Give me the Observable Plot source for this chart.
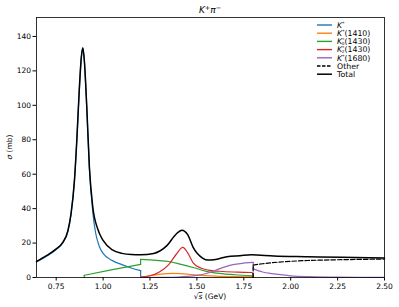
<!DOCTYPE html>
<html><head><meta charset="utf-8">
<script src="https://cdn.jsdelivr.net/npm/d3@7"></script>
<script src="https://cdn.jsdelivr.net/npm/@observablehq/plot@0.6"></script>
<style>
body{margin:0;background:#fff;}
#chart svg{display:block;}
</style></head><body><div id="chart"></div>
<script>
// ---- data ----
const totalX = [0.645,0.70,0.75,0.785,0.812,0.829,0.847,0.860,0.873,0.884,0.892,0.900,0.913,0.927,0.945,0.972,1.0,1.05,1.10,1.15,1.20,1.27,1.34,1.39,1.42,1.45,1.48,1.53,1.56,1.60,1.66,1.73,1.79,1.91,2.09,2.27,2.5];
const totalY = [9.3,12.8,16.6,20.4,27,37,56,80,109,128,133.5,126,99,64,41,28,21.5,16,14,13.3,13.2,14,18.5,25.3,27.5,25,17.5,11.3,10.1,10.5,12.1,12.7,13.2,12.5,12.1,11.7,11.3];
const kstarX = [0.645,0.70,0.75,0.785,0.812,0.829,0.847,0.860,0.873,0.884,0.892,0.900,0.913,0.927,0.945,0.96,0.98,1.0,1.05,1.10,1.15,1.2,1.2];
const kstarY = [9.0,12.5,16.3,20.1,26.7,36.7,55.7,79.7,108.7,127.7,133.2,125.7,98.5,63,38,26,18,14,9.8,7.5,5.5,4,0];
const k1410X = [1.2,1.25,1.3,1.37,1.43,1.5,1.6,1.7,1.8,1.8];
const k1410Y = [0.3,1.0,1.8,2.4,2.1,1.4,0.8,0.5,0.4,0];
const k0X = [0.9,0.9,1.05,1.2,1.2,1.25,1.3,1.35,1.41,1.48,1.55,1.62,1.7,1.8,1.8];
const k0Y = [0,1.3,4.6,7.6,10.5,10.2,9.8,9.3,7.8,5.8,3.6,2.4,1.6,1.0,0];
const k2X = [1.2,1.25,1.3,1.35,1.39,1.425,1.45,1.48,1.52,1.56,1.64,1.72,1.795,1.8];
const k2Y = [0.2,1.0,3.2,7.5,13.5,17.5,14.5,8.5,5.5,4.3,3.5,3.1,2.9,0];
const k1680X = [1.2,1.3,1.4,1.45,1.5,1.55,1.6,1.65,1.7,1.75,1.795,1.8,1.8,1.85,1.9,2.0,2.1,2.25,2.5];
const k1680Y = [0,0.1,0.3,0.6,1.2,2.3,4.2,6.2,7.6,8.4,8.8,8.8,5.0,3.2,2.2,1.0,0.5,0.2,0.1];
const otherX = [1.8,1.8,1.85,1.9,2.0,2.1,2.25,2.5];
const otherY = [0,7.2,8.0,8.6,9.4,9.9,10.3,10.7];
const xTicks = [0.75,1.00,1.25,1.50,1.75,2.00,2.25,2.50];
const yTicks = [0,20,40,60,80,100,120,140];

const series = [
  {key:"kstar", x:kstarX, y:kstarY, color:"#1f77b4", dash:null, w:1.2},
  {key:"k1410", x:k1410X, y:k1410Y, color:"#ff7f0e", dash:null, w:1.2},
  {key:"k0", x:k0X, y:k0Y, color:"#2ca02c", dash:null, w:1.2},
  {key:"k2", x:k2X, y:k2Y, color:"#d62728", dash:null, w:1.2},
  {key:"k1680", x:k1680X, y:k1680Y, color:"#9467bd", dash:null, w:1.2},
  {key:"other", x:otherX, y:otherY, color:"#000", dash:"4.5,2", w:1.2},
  {key:"total", x:totalX, y:totalY, color:"#000", dash:null, w:1.5}
];

function toRows(s) {
  const segs = [[{x:s.x[0], y:s.y[0]}]];
  for (let i = 1; i < s.x.length; i++) {
    const p = {x:s.x[i], y:s.y[i]};
    if (s.x[i] === s.x[i-1]) {
      segs.push([{x:s.x[i-1], y:s.y[i-1]}, p]);
      segs.push([p]);
    } else segs[segs.length-1].push(p);
  }
  const rows = [];
  segs.filter(g => g.length > 1).forEach((g, k) => g.forEach(p => rows.push({...p, seg: s.key + k})));
  return rows;
}

const marks = series.map(s => Plot.line(toRows(s), {
  x:"x", y:"y", z:"seg", stroke:s.color, strokeWidth:s.w,
  strokeDasharray: s.dash || undefined, curve:"monotone-x"
}));

const plot = Plot.plot({
  width:399, height:307,
  marginLeft:36, marginRight:15, marginTop:17, marginBottom:30,
  style:{fontFamily:"DejaVu Sans", fontSize:"7.5px", background:"#fff", color:"#000"},
  x:{domain:[0.645,2.5], ticks:xTicks, tickFormat:d3.format(".2f"), tickSize:3.5, tickPadding:2.5, label:null},
  y:{domain:[0,151], ticks:yTicks, tickSize:3.5, tickPadding:2, label:null},
  marks:[
    ...marks,
    Plot.frame({stroke:"#000", strokeWidth:0.8})
  ]
});
document.getElementById("chart").appendChild(plot);

const svg = d3.select(plot);
const FF = "DejaVu Sans";
// title
const t = svg.append("text").attr("x",210).attr("y",13).attr("text-anchor","middle")
  .attr("font-family",FF).attr("font-size",9).attr("fill","#000");
t.append("tspan").attr("font-style","italic").text("K");
t.append("tspan").attr("font-size",6.5).attr("dy",-3.5).text("+");
t.append("tspan").attr("font-style","italic").attr("dy",3.5).text("π");
t.append("tspan").attr("font-size",6.5).attr("dy",-3.5).text("−");
// y label
const yl = svg.append("text").attr("transform","translate(12,147) rotate(-90)").attr("text-anchor","middle")
  .attr("font-family",FF).attr("font-size",7.5).attr("fill","#000");
yl.append("tspan").attr("font-style","italic").text("σ");
yl.append("tspan").text(" (mb)");
// x label
const xl = svg.append("text").attr("x",210).attr("y",299).attr("text-anchor","middle")
  .attr("font-family",FF).attr("font-size",7.5).attr("fill","#000");
xl.append("tspan").text("√");
xl.append("tspan").attr("font-style","italic").attr("text-decoration","overline").text("s");
xl.append("tspan").text(" (GeV)");

// legend
const legendItems = [
  {color:"#1f77b4", dash:null, w:1.4, main:"K", sup:"*", sub:null, rest:""},
  {color:"#ff7f0e", dash:null, w:1.4, main:"K", sup:"*", sub:null, rest:"(1410)"},
  {color:"#2ca02c", dash:null, w:1.4, main:"K", sup:"*", sub:"0", rest:"(1430)"},
  {color:"#d62728", dash:null, w:1.4, main:"K", sup:"*", sub:"2", rest:"(1430)"},
  {color:"#9467bd", dash:null, w:1.4, main:"K", sup:"*", sub:null, rest:"(1680)"},
  {color:"#000", dash:"3.5,1.5", w:1.4, main:null, rest:"Other"},
  {color:"#000", dash:null, w:1.5, main:null, rest:"Total"}
];
legendItems.forEach((it, i) => {
  const y = 25 + i * 8.2;
  const ln = svg.append("line").attr("x1",317).attr("x2",332).attr("y1",y).attr("y2",y)
    .attr("stroke",it.color).attr("stroke-width",it.w);
  if (it.dash) ln.attr("stroke-dasharray",it.dash);
  const tx = svg.append("text").attr("x",337).attr("y",y+2.7).attr("font-family",FF)
    .attr("text-anchor","start").attr("font-size",7.8).attr("fill","#000");
  if (it.main) {
    tx.append("tspan").attr("font-style","italic").text(it.main);
    if (it.sub) {
      tx.append("tspan").attr("font-size",4.2).attr("dy",-3.4).text(it.sup);
      tx.append("tspan").attr("font-size",4.2).attr("dx",-2.4).attr("dy",4.4).text(it.sub);
      tx.append("tspan").attr("dy",-1.0).text(it.rest);
    } else {
      tx.append("tspan").attr("font-size",4.6).attr("dy",-2.9).text(it.sup);
      tx.append("tspan").attr("dy",2.9).text(it.rest);
    }
  } else {
    tx.text(it.rest);
  }
});
</script></body></html>
